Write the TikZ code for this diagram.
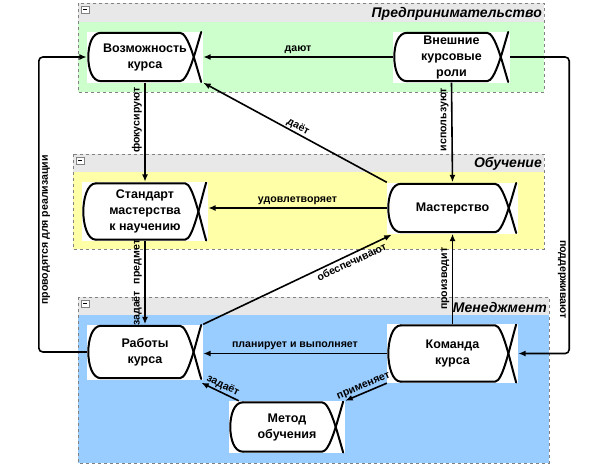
\documentclass[tikz,border=0pt]{standalone}
\usepackage{fontspec}
\setmainfont{Liberation Sans}
\usetikzlibrary{calc,arrows.meta}
\definecolor{hdr}{RGB}{232,232,232}
\definecolor{lgreen}{RGB}{204,255,204}
\definecolor{lyellow}{RGB}{255,255,168}
\definecolor{lblue}{RGB}{153,204,255}
\definecolor{bordergray}{RGB}{130,130,130}
\tikzset{
  proc/.style={fill=white, draw=none, inner sep=0pt, align=center,
    font=\fontsize{12.5}{16}\selectfont\bfseries,
    path picture={
      \draw[line width=2pt, line cap=round]
        ($(path picture bounding box.north west)+(14,1.3)$) -- ($(path picture bounding box.north east)+(-23,1.3)$)
        .. controls +(8,0) and +(-6,-20) .. ($(path picture bounding box.south east)+(-1.8,-0.5)$);
      \draw[line width=2pt, line cap=round]
        ($(path picture bounding box.south west)+(14,-1.3)$) -- ($(path picture bounding box.south east)+(-23,-1.3)$)
        .. controls +(8,0) and +(-6,20) .. ($(path picture bounding box.north east)+(-1.8,0.5)$);
      \draw[line width=2pt, line cap=round]
        ($(path picture bounding box.north west)+(14,1.3)$) .. controls +(-9,0) and +(0,-12) ..
        ($(path picture bounding box.west)+(1.3,0)$) .. controls +(0,12) and +(-9,0) ..
        ($(path picture bounding box.south west)+(14,-1.3)$);
    }},
  conn/.style={line width=1.6pt, -{Latex[length=7.5pt,width=6pt]}},
  lbl/.style={font=\fontsize{10.6}{12}\selectfont\bfseries, inner sep=1pt},
  vlbl/.style={lbl, inner sep=2.5pt},
  lanetitle/.style={font=\fontsize{14}{16}\selectfont\bfseries\itshape, inner sep=0pt},
  lanebd/.style={draw=bordergray, dashed, line width=0.6pt},
  minusbox/.style={draw=bordergray, fill=white, line width=0.5pt},
}
\begin{document}
\begin{tikzpicture}[x=1pt, y=-1pt]
\useasboundingbox (0,0) rectangle (591,466);
% lanes
\fill[hdr] (78,3) rectangle (544,22);
\fill[lgreen] (78,22) rectangle (544,92);
\draw[lanebd] (78,3) rectangle (544,92);
\draw[minusbox] (81,6) rectangle (89,13); \draw[line width=0.8pt] (83,9.5) -- (87,9.5);
\node[lanetitle, anchor=east] (t1) at (542,13.5) {Предпринимательство};

\fill[hdr] (73,154) rectangle (544,172);
\fill[lyellow] (73,172) rectangle (544,249);
\draw[lanebd] (73,154) rectangle (544,249);
\draw[minusbox] (76,157) rectangle (84,164); \draw[line width=0.8pt] (78,160.5) -- (82,160.5);
\node[lanetitle, anchor=east] (t2) at (542,164) {Обучение};

\fill[hdr] (78,297) rectangle (549,315);
\fill[lblue] (78,315) rectangle (549,463);
\draw[lanebd] (78,297) rectangle (549,463);
\draw[minusbox] (81,300) rectangle (89,307); \draw[line width=0.8pt] (83,303.5) -- (87,303.5);
\node[lanetitle, anchor=east] (t3) at (547,307) {Менеджмент};

% nodes
\node[proc, minimum width=116pt, minimum height=51pt] (V) at (145,57) {Возможность\\курса};
\node[proc, minimum width=117pt, minimum height=51pt] (E) at (451.5,57) {Внешние\\курсовые\\роли};
\node[proc, minimum width=126pt, minimum height=59pt] (S) at (145,211.5) {Стандарт\\мастерства\\к научению};
\node[proc, minimum width=131pt, minimum height=51pt] (M) at (452.5,208) {Мастерство};
\node[proc, minimum width=116pt, minimum height=55pt] (R) at (145,352) {Работы\\курса};
\node[proc, minimum width=131pt, minimum height=59pt] (K) at (452.5,353.5) {Команда\\курса};
\node[proc, minimum width=116pt, minimum height=52pt] (Met) at (287,427) {Метод\\обучения};

% connectors
\draw[conn] (E.west) -- (V.east) node[lbl, midway, above=2pt] {дают};
\draw[conn] (M.north west) -- (V.south east) node[lbl, midway, sloped, above] {даёт};
\draw[conn] (V.south) -- (S.north) node[vlbl, pos=0.38, rotate=90, anchor=south] {фокусируют};
\draw[conn] (E.south) -- (M.north) node[vlbl, pos=0.37, rotate=90, anchor=south] {используют};
\draw[conn] (M.west) -- (M.west -| S.east) node[lbl, midway, above=2pt] {удовлетворяет};
\draw[conn] (S.south) -- (R.north) node[vlbl, midway, rotate=90, anchor=south] {задаёт\hspace{4pt} предмет};
\draw[conn] (R.north east) -- ($(M.south west)+(5,1)$) node[lbl, pos=0.77, sloped, below=1.5pt] {обеспечивают};
\draw[conn] (K.north) -- (M.south) node[vlbl, midway, rotate=90, anchor=south] {производит};
\draw[conn] (K.west) -- (K.west -| R.east) node[lbl, midway, above=2pt] {планирует и выполняет};
\draw[conn] (K.south west) -- (Met.north east) node[lbl, midway, sloped, above] {применяет};
\draw[conn] ($(Met.north west)+(10,0)$) -- ($(R.south east)+(-2,3)$) node[lbl, midway, sloped, above] {задаёт};
\draw[conn, rounded corners=4pt] (E.east) -- ++(59,0) |- (K.east) node[vlbl, pos=0.375, rotate=-90, anchor=north] {поддерживают};
\draw[conn, rounded corners=4pt] (R.west) -- ++(-48,0) |- (V.west) node[vlbl, pos=0.207, rotate=90, anchor=north] {проводятся для реализации};
\end{tikzpicture}
\end{document}
